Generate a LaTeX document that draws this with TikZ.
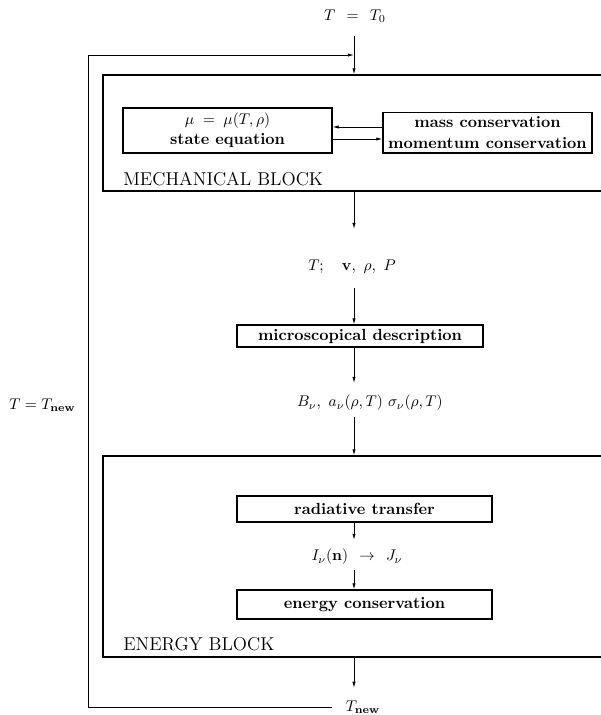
\documentclass[tikz,border=0pt]{standalone}
\usetikzlibrary{arrows.meta,fit}
\begin{document}
\begin{tikzpicture}[x=0.645pt,y=-0.645pt,
  every node/.style={font=\fontsize{10}{12.5}\selectfont},
  box/.style={draw,line width=0.7pt,inner sep=0pt,font=\fontsize{10.4}{13}\selectfont\bfseries,align=center},
  block/.style={draw,line width=0.7pt,inner sep=0pt},
  blocklbl/.style={inner sep=0pt,anchor=west,font=\fontsize{12}{14.5}\selectfont},
  lbl/.style={inner sep=0pt},
  arr/.style={line width=0.6pt,-{Latex[length=4pt,width=2.2pt]}}]
\clip (0,0) rectangle (601,715);
\coordinate (col) at (354,0);
\coordinate (lc) at (88,55);
\coordinate (a1) at (0,127);
\coordinate (a2) at (0,139);
% texts and boxes
\node[lbl] (t0) at (355,16) {$T\;\,=\;\,T_0$};
\node[block,fit={(103,75)(612,191)}] (mech) {};
\node[box,minimum width=134.8pt,minimum height=29pt] (state) at (227.5,130.5) {$\mu\;=\;\mu(T,\rho)$\\state equation};
\node[box,minimum width=134.8pt,minimum height=26.4pt] (mass) at (487.5,132.5) {mass conservation\\momentum conservation};
\node[blocklbl] (mechlbl) at (123,179) {MECHANICAL BLOCK};
\node[lbl] (tvrp) at (352,267) {$T;\quad \mathbf{v},\ \rho,\ P$};
\node[box,minimum width=158.7pt,minimum height=14.2pt] (micro) at (360,336) {microscopical description};
\node[lbl] (bnu) at (370,403) {$B_\nu,\ a_\nu(\rho,T)\ \sigma_\nu(\rho,T)$};
\node[block,fit={(103,456)(612,657)}] (energy) {};
\node[box,minimum width=164.5pt,minimum height=16.8pt] (rad) at (364.5,509) {radiative transfer};
\node[lbl] (inj) at (357,557) {$I_\nu(\mathbf{n})\;\,\rightarrow\;\,J_\nu$};
\node[box,minimum width=164.5pt,minimum height=18.7pt] (econ) at (364.5,604.5) {energy conservation};
\node[blocklbl] (enlbl) at (123,644) {ENERGY BLOCK};
\node[lbl] (tnew) at (363,707) {$T_{\mathbf{new}}$};
\node[lbl,anchor=east] (tnl) at (76,405) {$T=T_{\mathbf{new}}$};
% connectors
\draw[arr] (mass.west |- a1) -- (state.east |- a1);
\draw[arr] (state.east |- a2) -- (mass.west |- a2);
\draw[arr,shorten <=12.9pt] (t0.center -| col) -- (mech.north -| col);
\draw[arr,shorten >=24.5pt] (mech.south -| col) -- (tvrp.center -| col);
\draw[arr,shorten <=13.5pt] (tvrp.center -| col) -- (micro.north -| col);
\draw[arr,shorten >=12.9pt] (micro.south -| col) -- (bnu.center -| col);
\draw[arr,shorten <=9pt] (bnu.center -| col) -- (energy.north -| col);
\draw[arr,shorten >=11pt] (rad.south -| col) -- (inj.center -| col);
\draw[arr,shorten <=8.4pt] (inj.center -| col) -- (econ.north -| col);
\draw[arr,shorten >=12.3pt] (energy.south -| col) -- (tnew.center -| col);
\draw[arr,shorten <=8.4pt] (tnew.west) -| (lc) -- (lc -| col);
\end{tikzpicture}
\end{document}
